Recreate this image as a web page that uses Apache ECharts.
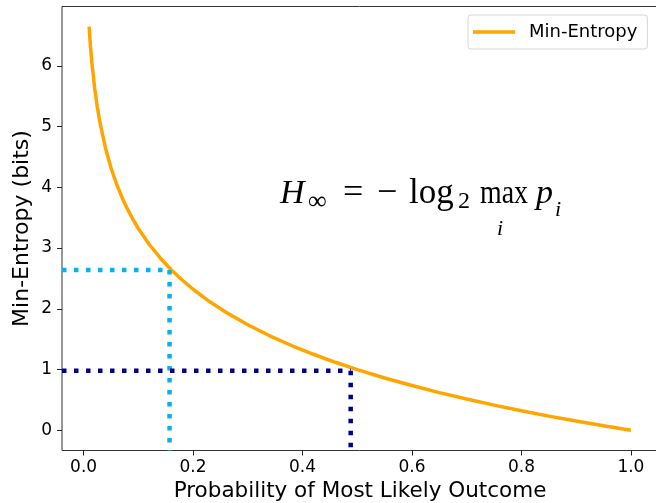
<!DOCTYPE html>
<html>
<head>
<meta charset="utf-8">
<script src="https://cdn.jsdelivr.net/npm/echarts@6/dist/echarts.min.js"></script>
<style>
  html, body { margin: 0; padding: 0; background: #fff; }
  #chart { width: 656px; height: 503px; }
</style>
</head>
<body>
<div id="chart"></div>
<script>
// Curve: probability of most likely outcome vs min-entropy (bits)
const probs = [0.01, 0.0125, 0.015, 0.02, 0.025, 0.03, 0.04, 0.05, 0.06, 0.07, 0.08, 0.09, 0.10,
  0.12, 0.14, 0.16, 0.18, 0.20, 0.23, 0.26, 0.30, 0.34, 0.38, 0.42, 0.46, 0.50,
  0.55, 0.60, 0.65, 0.70, 0.75, 0.80, 0.85, 0.90, 0.95, 1.00];
const minEntropy = [6.644, 6.322, 6.059, 5.644, 5.322, 5.059, 4.644, 4.322, 4.059, 3.837, 3.644, 3.474, 3.322,
  3.059, 2.837, 2.644, 2.474, 2.322, 2.120, 1.943, 1.737, 1.556, 1.396, 1.252, 1.120, 1.000,
  0.862, 0.737, 0.621, 0.515, 0.415, 0.322, 0.234, 0.152, 0.074, 0.000];

// Dotted guide lines (probability, entropy)
const guideP = [0.157, 0.488];
const guideH = [2.64, 0.98];
const guideColors = ['#0cb0ef', '#00008b'];

// Ticks and axis ranges
const xTicks = [0.0, 0.2, 0.4, 0.6, 0.8, 1.0];
const yTicks = [0, 1, 2, 3, 4, 5, 6];
const xRange = [-0.0395, 1.0495];
const yRange = [-0.332, 6.976];

const seriesName = 'Min-Entropy';
const xLabel = 'Probability of Most Likely Outcome';
const yLabel = 'Min-Entropy (bits)';

const chart = echarts.init(document.getElementById('chart'), null, { renderer: 'canvas' });

const font = 'DejaVu Sans';
const mathFont = 'Liberation Serif';

const curve = probs.map((p, i) => [p, minEntropy[i]]);

const guideSeries = [];
guideP.forEach((p, i) => {
  const h = guideH[i];
  guideSeries.push({
    type: 'line', silent: true, showSymbol: false, symbol: 'none', z: 5,
    data: [[xRange[0], h], [p, h]],
    lineStyle: { color: guideColors[i], width: 4.5, type: [4.5, 7.5], cap: 'butt' }
  });
  guideSeries.push({
    type: 'line', silent: true, showSymbol: false, symbol: 'none', z: 5,
    data: [[p, h], [p, yRange[0]]],
    lineStyle: { color: guideColors[i], width: 4.5, type: [4.5, 7.5], cap: 'butt' }
  });
});

function mathText(text, x, y, size, italic, align, scaleX) {
  return {
    type: 'text', x: x, y: y, z: 100, scaleX: scaleX || 1,
    style: {
      text: text,
      font: (italic ? 'italic ' : '') + size + 'px "' + mathFont + '"',
      fill: '#000',
      align: align || 'left',
      verticalAlign: 'middle'
    }
  };
}

chart.setOption({
  animation: false,
  backgroundColor: '#fff',
  grid: {
    left: 62, top: 6.5, width: 596, height: 444,
    outerBoundsMode: 'none', containLabel: false,
    show: true, borderColor: '#333', borderWidth: 1, backgroundColor: 'transparent'
  },
  legend: {
    data: [seriesName],
    left: 468, top: 15,
    orient: 'horizontal',
    icon: 'rect',
    itemWidth: 42, itemHeight: 3.5,
    padding: [8, 10, 8, 5],
    borderColor: '#d6d6d6', borderWidth: 1, borderRadius: 3,
    backgroundColor: 'rgba(255,255,255,0.8)',
    textStyle: { fontFamily: font, fontSize: 18, color: '#000', lineHeight: 18, padding: [0, 0, 0, 9] }
  },
  xAxis: {
    type: 'value', min: xRange[0], max: xRange[1],
    name: xLabel, nameLocation: 'middle', nameGap: 30, nameMoveOverlap: false,
    nameTextStyle: { fontFamily: font, fontSize: 21.5, color: '#000' },
    axisLine: { show: false, onZero: false },
    axisTick: { show: true, customValues: xTicks, length: 5, lineStyle: { color: '#222', width: 1 } },
    axisLabel: { customValues: xTicks, margin: 9, fontFamily: font, fontSize: 17, color: '#000',
      formatter: v => v.toFixed(1) },
    splitLine: { show: false }
  },
  yAxis: {
    type: 'value', min: yRange[0], max: yRange[1],
    name: yLabel, nameLocation: 'middle', nameGap: 29, nameRotate: 90, nameMoveOverlap: false,
    nameTextStyle: { fontFamily: font, fontSize: 22, color: '#000' },
    axisLine: { show: false, onZero: false },
    axisTick: { show: true, customValues: yTicks, length: 5, lineStyle: { color: '#222', width: 1 } },
    axisLabel: { customValues: yTicks, margin: 10, fontFamily: font, fontSize: 17, color: '#000',
      formatter: v => String(Math.round(v)) },
    splitLine: { show: false }
  },
  series: [
    {
      name: seriesName, type: 'line', data: curve, showSymbol: false, symbol: 'none', z: 3,
      lineStyle: { color: '#FFA500', width: 3.5 }, itemStyle: { color: '#FFA500' }
    }
  ].concat(guideSeries),
  graphic: [
    mathText('H', 280, 194, 34, true),
    mathText('\u221E', 308, 202, 26, false),
    mathText('=', 343, 194, 36, false),
    mathText('\u2212', 377, 194, 36, false),
    mathText('log', 409, 194, 35, false),
    mathText('2', 458, 202, 24, false),
    mathText('max', 480, 194, 34, false, 'left', 0.82),
    mathText('i', 500, 229, 22, true, 'center'),
    mathText('p', 536, 194, 34, true),
    mathText('i', 555, 210, 22, true)
  ]
});
</script>
</body>
</html>
